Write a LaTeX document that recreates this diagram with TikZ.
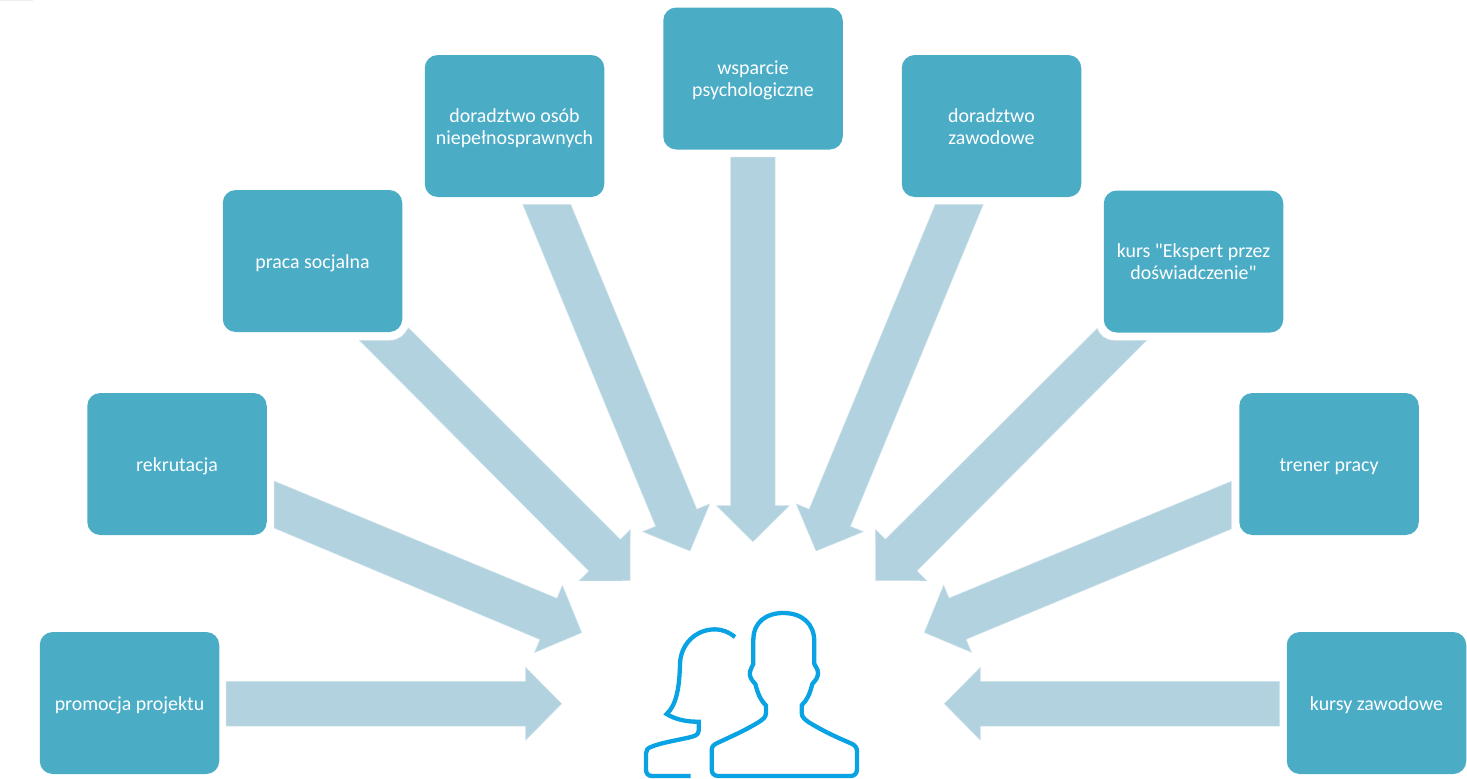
\documentclass[tikz,border=0pt]{standalone}
\usepackage{fontspec}
\setmainfont{Carlito}[Ligatures=TeXOff]
\usetikzlibrary{calc}
\definecolor{boxblue}{HTML}{4BACC6}
\definecolor{arrowblue}{HTML}{B2D2DF}
\definecolor{iconblue}{HTML}{09A3E4}
\tikzset{
  box/.style={fill=boxblue,rounded corners=13pt,minimum width=179.5pt,minimum height=142pt,inner sep=0pt,
    text=white,font=\fontsize{19.9}{22}\selectfont},
  blockfill/.style={fill=arrowblue,draw=arrowblue!60!white,line width=0.5pt},
  iconline/.style={draw=iconblue,line width=4.3pt,line join=round,fill=none}
}
\newcommand{\lbl}[1]{\raisebox{-2.6pt}[\height][\depth]{\begin{tabular}{@{}c@{}}#1\end{tabular}}}
% #1 side coordinate (+90), #2 side coordinate (-90), #3 tip, #4 direction, #5 base closing path
\newcommand{\blockarrow}[5]{%
  \path[blockfill] (#1)
    -- ($(#3)+(#4:-36)+(#4+90:22.3)$)
    -- ($(#3)+(#4:-36)+(#4+90:36.4)$)
    -- (#3)
    -- ($(#3)+(#4:-36)+(#4-90:36.4)$)
    -- ($(#3)+(#4:-36)+(#4-90:22.3)$)
    -- (#2) #5 -- cycle;}
\begin{document}
\begin{tikzpicture}[x=1pt,y=-1pt]
\useasboundingbox (0,0) rectangle (1467,779);
\fill[black!7] (0,0) rectangle (33,1);

\node[box] (promocja) at (129.5,703) {\lbl{promocja projektu}};
\node[box] (rekrutacja) at (177,464) {\lbl{rekrutacja}};
\node[box] (praca) at (312.5,261) {\lbl{praca socjalna}};
\node[box] (osob) at (514.5,126) {\lbl{doradztwo osób\\niepełnosprawnych}};
\node[box] (wsparcie) at (753,78.5) {\lbl{wsparcie\\psychologiczne}};
\node[box] (zawodowe) at (991.5,126) {\lbl{doradztwo\\zawodowe}};
\node[box] (kurs) at (1193.5,261.5) {\lbl{kurs "Ekspert przez\\doświadczenie"}};
\node[box] (trener) at (1329,464) {\lbl{trener pracy}};
\node[box] (kursy) at (1376.5,703) {\lbl{kursy zawodowe}};

\coordinate (a1a) at (226,726);      \coordinate (a1b) at (226,681.4);     \coordinate (a1t) at (561.7,703.7);
\coordinate (a2a) at (274,528);      \coordinate (a2b) at (274,481);       \coordinate (a2t) at (581.7,632.7);
\coordinate (a3a) at (359.3,340.3);  \coordinate (a3b) at (408.3,327.7);   \coordinate (a3t) at (630,580.7);
\coordinate (a4a) at (522.7,204.3);  \coordinate (a4b) at (570.7,204.3);   \coordinate (a4t) at (690,551);
\coordinate (a5a) at (730.6,157);    \coordinate (a5b) at (775.2,157);     \coordinate (a5t) at (752.9,541.7);
\coordinate (a6a) at (935.3,204.3);  \coordinate (a6b) at (983.3,204.3);   \coordinate (a6t) at (816,551);
\coordinate (a7a) at (1097.3,328.3); \coordinate (a7b) at (1146.7,340.3);  \coordinate (a7t) at (875.7,580.5);
\coordinate (a8a) at (1231.3,481.3); \coordinate (a8b) at (1231.3,529);    \coordinate (a8t) at (924.3,632.5);
\coordinate (a9a) at (1279.7,681.4); \coordinate (a9b) at (1279.7,726);    \coordinate (a9t) at (944.3,703.7);

\blockarrow{a1a}{a1b}{a1t}{0}{}
\blockarrow{a2a}{a2b}{a2t}{22.5}{}
\blockarrow{a3a}{a3b}{a3t}{45}{.. controls (404,336) and (398,340.3) .. (390,340.3)}
\blockarrow{a4a}{a4b}{a4t}{67.5}{}
\blockarrow{a5a}{a5b}{a5t}{90}{}
\blockarrow{a6a}{a6b}{a6t}{112.5}{}
\blockarrow{a7a}{a7b}{a7t}{135}{-- (1114,340.3) .. controls (1106,340.3) and (1100,336) .. (a7a)}
\blockarrow{a8a}{a8b}{a8t}{157.5}{}
\blockarrow{a9a}{a9b}{a9t}{180}{}

\begin{scope}[xshift=620pt,yshift=-590pt,x=0.3333pt,y=-0.3333pt]
  % man
  \draw[iconline] (295,558) .. controls (282,558) and (275,550) .. (275,538)
    -- (275,482) .. controls (275,470) and (280,465) .. (290,460)
    .. controls (330,441) and (370,424) .. (410,400)
    .. controls (430,388) and (438,382) .. (438,368)
    -- (438,346) .. controls (420,330) and (412,305) .. (406,282)
    .. controls (392,268) and (388,258) .. (390,245)
    .. controls (391,235) and (398,230) .. (400,222)
    -- (400,150) .. controls (400,95) and (440,69) .. (490,69)
    .. controls (545,69) and (583,100) .. (583,155)
    -- (583,222) .. controls (586,230) and (593,235) .. (594,247)
    .. controls (595,260) and (588,270) .. (577,282)
    .. controls (570,310) and (562,330) .. (545,346)
    -- (545,368) .. controls (545,382) and (555,390) .. (575,402)
    .. controls (615,426) and (655,444) .. (695,461)
    .. controls (705,466) and (711,472) .. (711,484)
    -- (711,538) .. controls (711,550) and (704,558) .. (692,558) -- cycle;
  % woman
  \draw[iconline,line join=miter] (345,141) .. controls (325,125) and (305,118) .. (285,118)
    .. controls (225,118) and (180,165) .. (180,225)
    .. controls (178,290) and (170,345) .. (140,372)
    .. controls (165,388) and (200,396) .. (236,395)
    -- (236,422) .. controls (236,435) and (225,438) .. (205,443)
    .. controls (165,452) and (125,458) .. (95,470)
    .. controls (83,474) and (78,480) .. (78,490)
    -- (78,538) .. controls (78,551) and (84,558) .. (97,558) -- (212,558);
\end{scope}
\end{tikzpicture}
\end{document}
